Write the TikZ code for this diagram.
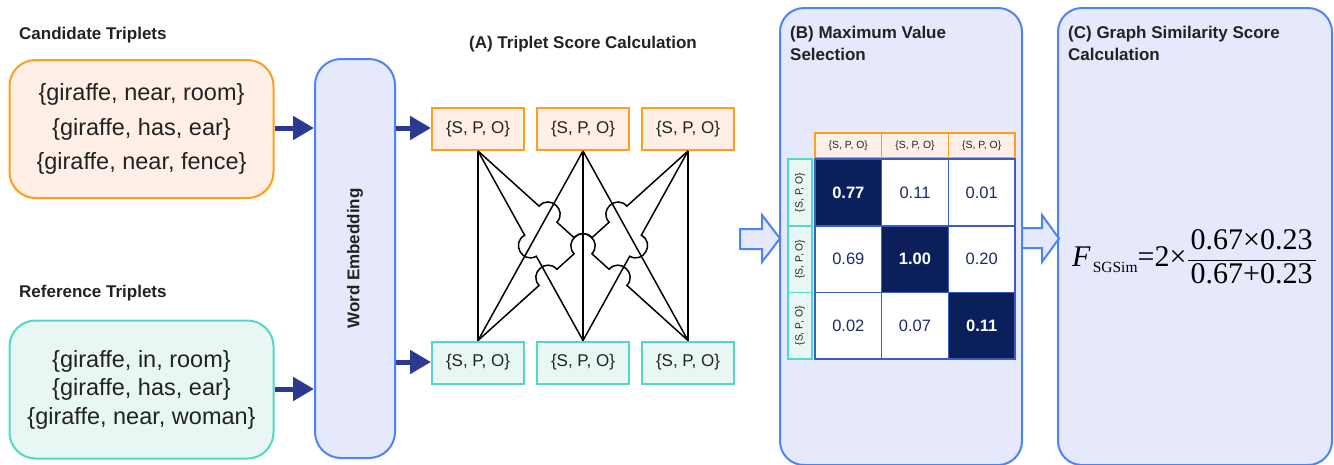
\documentclass[tikz,border=0pt]{standalone}
\usepackage{fontspec}
\setmainfont{Liberation Sans}
\newfontfamily\tnr{Liberation Serif}
\usetikzlibrary{calc,arrows.meta}
\definecolor{orS}{HTML}{FF9E1B}
\definecolor{orF}{HTML}{FFEFE6}
\definecolor{teS}{HTML}{52D9C6}
\definecolor{teF}{HTML}{E8F7F4}
\definecolor{blS}{HTML}{4C84F5}
\definecolor{blF}{HTML}{E6E9FC}
\definecolor{navy}{HTML}{2B3990}
\definecolor{cellB}{HTML}{3C5CC4}
\definecolor{darkC}{HTML}{0B1F5B}
\definecolor{numC}{HTML}{1B2A6B}
\definecolor{txt}{HTML}{222222}
\tikzset{
  ttl/.style={font=\fontsize{17}{22}\selectfont\bfseries, text=txt, inner sep=0pt},
  bigbox/.style={line width=2pt, rounded corners=26pt, minimum width=264pt, minimum height=138pt, align=center, text=txt, inner sep=0pt},
  wbox/.style={draw=blS, fill=blF, line width=2pt, rounded corners=26pt, minimum width=80pt, minimum height=399pt, inner sep=0pt, font=\fontsize{17}{20}\selectfont\bfseries, text=txt},
  panel/.style={draw=blS, fill=blF, line width=2pt, rounded corners=24pt, inner sep=0pt},
  spoT/.style={draw=orS, fill=orF, line width=2pt, minimum width=92pt, minimum height=42pt, inner sep=0pt, font=\fontsize{17}{20}\selectfont, text=txt},
  spoB/.style={draw=teS, fill=teF, line width=2pt, minimum width=92pt, minimum height=42pt, inner sep=0pt, font=\fontsize{17}{20}\selectfont, text=txt},
  colh/.style={draw=orS, fill=orF, line width=1.6pt, minimum width=66.7pt, minimum height=25pt, inner sep=0pt, font=\fontsize{10.4}{12}\selectfont, text=txt},
  rowh/.style={draw=teS, fill=teF, line width=1.6pt, minimum width=24pt, minimum height=66.7pt, inner sep=0pt, font=\fontsize{10.4}{12}\selectfont, text=txt},
  cell/.style={draw=cellB, fill=white, line width=1.6pt, minimum width=66.7pt, minimum height=66.7pt, inner sep=0pt, font=\fontsize{16.5}{20}\selectfont, text=numC},
  hi/.style={fill=darkC, text=white, font=\fontsize{16.5}{20}\selectfont\bfseries},
  navyarr/.style={draw=navy, line width=5pt, -{Triangle[length=21pt,width=23pt]}},
  link/.style={draw=black, line width=1.5pt},
  hopL/.style={bend left=90, looseness=1.7},
  hopR/.style={bend right=90, looseness=1.7},
  blk/.style={draw=blS, fill=blF, line width=2pt, line join=miter},
}
\begin{document}
\begin{tikzpicture}[x=1pt,y=-1pt]
\useasboundingbox (0,0) rectangle (1334,464);
% ---------- left part ----------
\node[ttl, anchor=base west] (candT) at (19,39) {Candidate Triplets};
\node[bigbox, draw=orS, fill=orF, font=\fontsize{23.5}{34.5}\selectfont] (cand) at (141.5,129)
  {\{giraffe, near, room\}\\\{giraffe, has, ear\}\\\{giraffe, near, fence\}};
\node[ttl, anchor=base west] (refT) at (19,297) {Reference Triplets};
\node[bigbox, draw=teS, fill=teF, font=\fontsize{23.5}{28.5}\selectfont] (ref) at (141.5,389.5)
  {\{giraffe, in, room\}\\\{giraffe, has, ear\}\\\{giraffe, near, woman\}};
\node[wbox] (we) at (355,258.5) {\rotatebox{90}{Word Embedding}};
\draw[navyarr] (cand.east |- 0,128) -- (we.west |- 0,128);
\draw[navyarr] (ref.east |- 0,389) -- (we.west |- 0,389);
% ---------- (A) ----------
\node[ttl, anchor=base] (aT) at (583,48) {(A) Triplet Score Calculation};
\node[spoT] (ct1) at (478,129) {\{S, P, O\}};
\node[spoT] (ct2) at (583,129) {\{S, P, O\}};
\node[spoT] (ct3) at (688,129) {\{S, P, O\}};
\node[spoB] (rt1) at (478,362.5) {\{S, P, O\}};
\node[spoB] (rt2) at (583,362.5) {\{S, P, O\}};
\node[spoB] (rt3) at (688,362.5) {\{S, P, O\}};
\draw[navyarr] (we.east |- 0,128) -- (ct1.west |- 0,128);
\draw[navyarr] (we.east |- 0,362) -- (rt1.west |- 0,362);
% straight links
\draw[link] (ct1.south) -- (rt1.north);
\draw[link] (ct2.south) -- (rt2.north);
\draw[link] (ct3.south) -- (rt3.north);
\draw[link] (ct2.south) -- (rt1.north);
\draw[link] (ct2.south) -- (rt3.north);
% links with jumps
\draw[link] (ct1.south)
  -- ($(ct1.south)!0.5!(rt2.north)!-12pt!(rt2.north)$) to[hopR] ($(ct1.south)!0.5!(rt2.north)!12pt!(rt2.north)$)
  -- (rt2.north);
\draw[link] (ct3.south)
  -- ($(ct3.south)!0.5!(rt2.north)!-12pt!(rt2.north)$) to[hopL] ($(ct3.south)!0.5!(rt2.north)!12pt!(rt2.north)$)
  -- (rt2.north);
\draw[link] (ct1.south)
  -- ($(ct1.south)!0.3333!(rt3.north)!-12pt!(rt3.north)$) to[hopL] ($(ct1.south)!0.3333!(rt3.north)!12pt!(rt3.north)$)
  -- ($(ct1.south)!0.5!(rt3.north)!-12pt!(rt3.north)$) to[hopL] ($(ct1.south)!0.5!(rt3.north)!12pt!(rt3.north)$)
  -- ($(ct1.south)!0.6667!(rt3.north)!-12pt!(rt3.north)$) to[hopL] ($(ct1.south)!0.6667!(rt3.north)!12pt!(rt3.north)$)
  -- (rt3.north);
\draw[link] (ct3.south)
  -- ($(ct3.south)!0.3333!(rt1.north)!-12pt!(rt1.north)$) to[hopR] ($(ct3.south)!0.3333!(rt1.north)!12pt!(rt1.north)$)
  -- ($(ct3.south)!0.5!(rt1.north)!-12pt!(rt1.north)$) to[hopR] ($(ct3.south)!0.5!(rt1.north)!12pt!(rt1.north)$)
  -- ($(ct3.south)!0.6667!(rt1.north)!-12pt!(rt1.north)$) to[hopR] ($(ct3.south)!0.6667!(rt1.north)!12pt!(rt1.north)$)
  -- (rt1.north);
% ---------- panels ----------
\node[panel, minimum width=242pt, minimum height=457pt] (panB) at (901,236.5) {};
\node[panel, minimum width=274pt, minimum height=457pt] (panC) at (1195,236.5) {};
\node[ttl, anchor=north west, align=left] (bT) at (790,25.5) {(B) Maximum Value\\Selection};
\node[ttl, anchor=north west, align=left] (cT) at (1068,25.5) {(C) Graph Similarity Score\\Calculation};
% block arrows
\draw[blk] (740,229) -- (762,229) -- (762,215) -- (780,238.5) -- (762,262) -- (762,249) -- (740,249) -- cycle;
\draw[blk] (1022,228) -- (1042,228) -- (1042,215) -- (1059,238.5) -- (1042,262) -- (1042,248) -- (1022,248) -- cycle;
% matrix
\node[colh] (ch1) at (848.3,145.5) {\{S, P, O\}};
\node[colh] (ch2) at (915,145.5) {\{S, P, O\}};
\node[colh] (ch3) at (981.7,145.5) {\{S, P, O\}};
\node[rowh] (rh1) at (800,192.5) {\rotatebox{90}{\{S, P, O\}}};
\node[rowh] (rh2) at (800,259.2) {\rotatebox{90}{\{S, P, O\}}};
\node[rowh] (rh3) at (800,325.9) {\rotatebox{90}{\{S, P, O\}}};
\node[cell,hi] (m11) at (848.3,192.5) {0.77};
\node[cell] (m12) at (915,192.5) {0.11};
\node[cell] (m13) at (981.7,192.5) {0.01};
\node[cell] (m21) at (848.3,259.2) {0.69};
\node[cell,hi] (m22) at (915,259.2) {1.00};
\node[cell] (m23) at (981.7,259.2) {0.20};
\node[cell] (m31) at (848.3,325.9) {0.02};
\node[cell] (m32) at (915,325.9) {0.07};
\node[cell,hi] (m33) at (981.7,325.9) {0.11};
% formula
\node[anchor=base west, inner sep=0pt, text=black] (form) at (1072,266)
  {\tnr\fontsize{30}{36}\selectfont\textit{F}\kern2pt\raisebox{-6pt}{\fontsize{15.5}{18}\selectfont SGSim}=2×$\displaystyle\frac{\mbox{\kern3pt 0.67×0.23\kern3pt}}{\mbox{\kern3pt 0.67+0.23\kern3pt}}$};
\end{tikzpicture}
\end{document}
